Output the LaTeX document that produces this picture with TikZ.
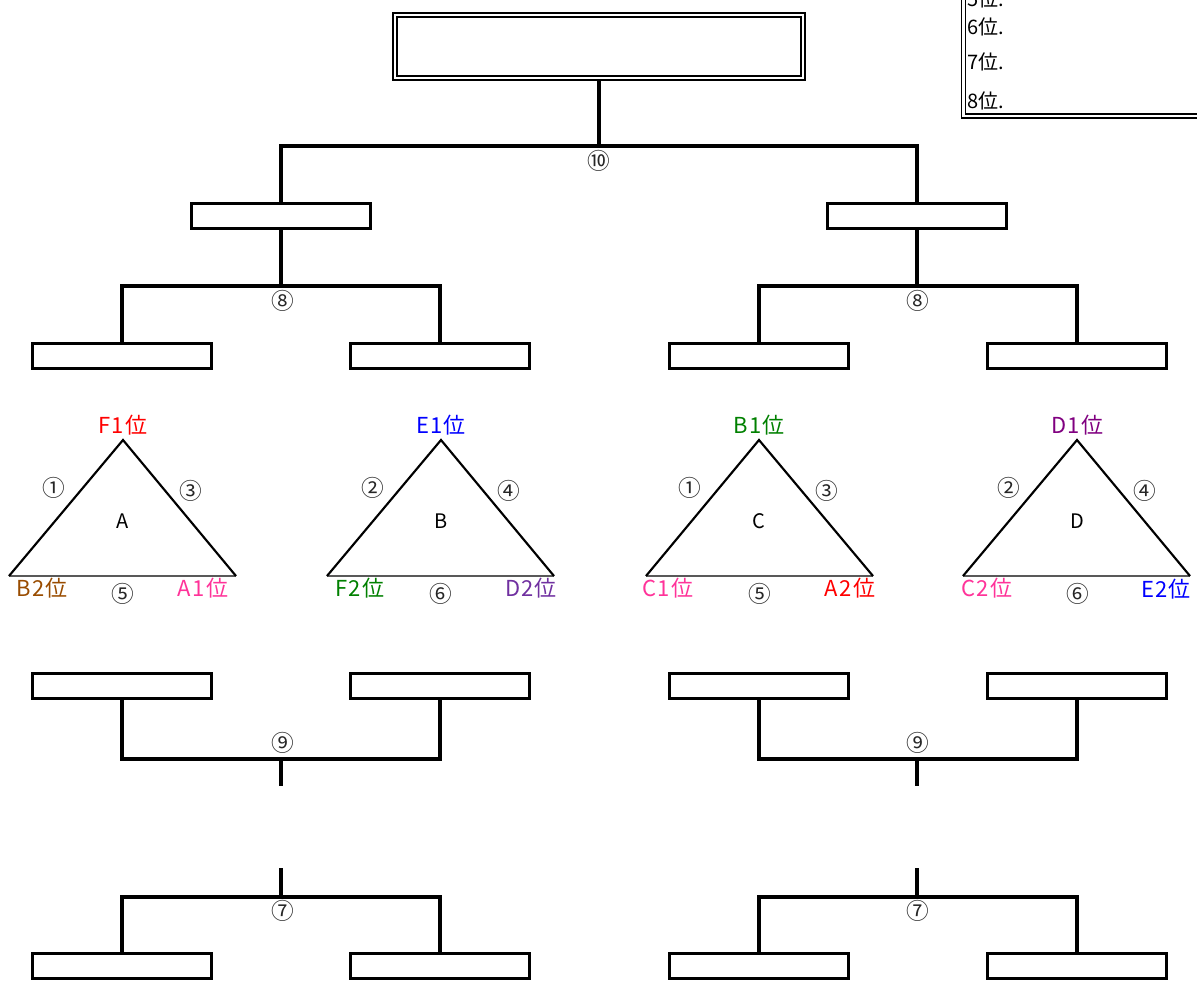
\documentclass[tikz,border=0pt]{standalone}
\usepackage{fontspec}
\setmainfont{Noto Sans CJK JP}
\newfontfamily\labfont[LetterSpace=6]{Noto Sans CJK JP}
\definecolor{cred}{RGB}{255,0,0}
\definecolor{cblue}{RGB}{0,0,255}
\definecolor{cgreen}{RGB}{0,128,0}
\definecolor{cpurple}{RGB}{128,0,128}
\definecolor{cbrown}{RGB}{153,76,0}
\definecolor{cpink}{RGB}{255,51,153}
\definecolor{cviolet}{RGB}{112,48,160}
\begin{document}
\begin{tikzpicture}[x=0.75pt,y=-0.75pt,
  slot/.style={draw, line width=2.6pt, minimum width=134pt, minimum height=18.5pt, inner sep=0pt},
  dbox/.style={draw, double, line width=1.4pt, double distance=1.6pt, inner sep=0pt},
  conn/.style={line width=2.6pt},
  side/.style={line width=1.6pt, line join=miter},
  base/.style={line width=1.6pt, draw=black!65},
  lab/.style={font=\labfont\fontsize{16.5}{16.5}\selectfont, inner sep=0pt},
  num/.style={font=\fontsize{17}{17}\selectfont, inner sep=0pt, text=black!85},
  grp/.style={font=\fontsize{15}{15}\selectfont, inner sep=0pt},
  rank/.style={font=\fontsize{15}{15}\selectfont, inner sep=0pt, anchor=west}]
\useasboundingbox (0,0) rectangle (1197,981);
\clip (0,0) rectangle (1197,981);

% ---------- top final box and ranking box ----------
\node[dbox, minimum width=306pt, minimum height=47.5pt] (top) at (599,46.5) {};
\node[dbox, minimum width=207.4pt, minimum height=117pt] (ranks) at (1101.75,38.25) {};
\node[rank] (r5) at (967,-1) {5位.};
\node[rank] (r6) at (967,27) {6位.};
\node[rank] (r7) at (967,62) {7位.};
\node[rank] (r8) at (967,101) {8位.};

% ---------- upper bracket ----------
\node[slot] (L2) at (281,216) {};
\node[slot] (R2) at (917,216) {};
\coordinate (b10) at (599,146);
\draw[conn] (top.south) -- (b10);
\draw[conn] (L2.north) |- (b10) -| (R2.north);
\node[num] (n10) at (599,161) {⑩};

\node[slot] (LL3) at (122,356) {};
\node[slot] (LR3) at (440,356) {};
\node[slot] (RL3) at (759,356) {};
\node[slot] (RR3) at (1077,356) {};
\coordinate (b8L) at (281,286);
\coordinate (b8R) at (917,286);
\draw[conn] (L2.south) -- (b8L);
\draw[conn] (R2.south) -- (b8R);
\draw[conn] (LL3.north) |- (b8L) -| (LR3.north);
\draw[conn] (RL3.north) |- (b8R) -| (RR3.north);
\node[num] (n8L) at (283,301) {⑧};
\node[num] (n8R) at (918,301) {⑧};

% ---------- triangles ----------
% A
\coordinate (Aa) at (123,440); \coordinate (Al) at (9,576); \coordinate (Ar) at (236,576);
\draw[base] (Al) -- (Ar);
\draw[side] (Al) -- (Aa) -- (Ar);
\node[lab, text=cred] (tA1) at (123,425) {F1位};
\node[num] (tA2) at (54,488) {①};
\node[num] (tA3) at (191,491) {③};
\node[grp] (tA4) at (123,521) {A};
\node[lab, text=cbrown] (tA5) at (42,588) {B2位};
\node[num] (tA6) at (123,594) {⑤};
\node[lab, text=cpink] (tA7) at (203,588) {A1位};
% B
\coordinate (Ba) at (441,440); \coordinate (Bl) at (327,576); \coordinate (Br) at (554,576);
\draw[base] (Bl) -- (Br);
\draw[side] (Bl) -- (Ba) -- (Br);
\node[lab, text=cblue] (tB1) at (441,425) {E1位};
\node[num] (tB2) at (373,488) {②};
\node[num] (tB3) at (509,491) {④};
\node[grp] (tB4) at (441,521) {B};
\node[lab, text=cgreen] (tB5) at (360,588) {F2位};
\node[num] (tB6) at (441,594) {⑥};
\node[lab, text=cviolet] (tB7) at (531,588) {D2位};
% C
\coordinate (Ca) at (759,440); \coordinate (Cl) at (646,576); \coordinate (Cr) at (873,576);
\draw[base] (Cl) -- (Cr);
\draw[side] (Cl) -- (Ca) -- (Cr);
\node[lab, text=cgreen] (tC1) at (759,425) {B1位};
\node[num] (tC2) at (690,488) {①};
\node[num] (tC3) at (827,491) {③};
\node[grp] (tC4) at (759,521) {C};
\node[lab, text=cpink] (tC5) at (668,588) {C1位};
\node[num] (tC6) at (760,594) {⑤};
\node[lab, text=cred] (tC7) at (850,588) {A2位};
% D
\coordinate (Da) at (1077,440); \coordinate (Dl) at (963,576); \coordinate (Dr) at (1190,576);
\draw[base] (Dl) -- (Dr);
\draw[side] (Dl) -- (Da) -- (Dr);
\node[lab, text=cpurple] (tD1) at (1077,425) {D1位};
\node[num] (tD2) at (1009,488) {②};
\node[num] (tD3) at (1145,491) {④};
\node[grp] (tD4) at (1077,521) {D};
\node[lab, text=cpink] (tD5) at (987,588) {C2位};
\node[num] (tD6) at (1078,594) {⑥};
\node[lab, text=cblue] (tD7) at (1166,589) {E2位};

% ---------- lower bracket (9) ----------
\node[slot] (LL4) at (122,686) {};
\node[slot] (LR4) at (440,686) {};
\node[slot] (RL4) at (759,686) {};
\node[slot] (RR4) at (1077,686) {};
\coordinate (b9L) at (281,759);
\coordinate (b9R) at (917,759);
\coordinate (e9L) at (281,786);
\coordinate (e9R) at (917,786);
\draw[conn] (LL4.south) |- (b9L) -| (LR4.south);
\draw[conn] (RL4.south) |- (b9R) -| (RR4.south);
\draw[conn] (b9L) -- (e9L);
\draw[conn] (b9R) -- (e9R);
\node[num] (n9L) at (283,743) {⑨};
\node[num] (n9R) at (918,743) {⑨};

% ---------- bottom bracket (7) ----------
\node[slot] (LL5) at (122,966) {};
\node[slot] (LR5) at (440,966) {};
\node[slot] (RL5) at (759,966) {};
\node[slot] (RR5) at (1077,966) {};
\coordinate (b7L) at (281,897);
\coordinate (b7R) at (917,897);
\coordinate (e7L) at (281,868);
\coordinate (e7R) at (917,868);
\draw[conn] (e7L) -- (b7L);
\draw[conn] (e7R) -- (b7R);
\draw[conn] (LL5.north) |- (b7L) -| (LR5.north);
\draw[conn] (RL5.north) |- (b7R) -| (RR5.north);
\node[num] (n7L) at (283,911) {⑦};
\node[num] (n7R) at (918,911) {⑦};
\end{tikzpicture}
\end{document}
